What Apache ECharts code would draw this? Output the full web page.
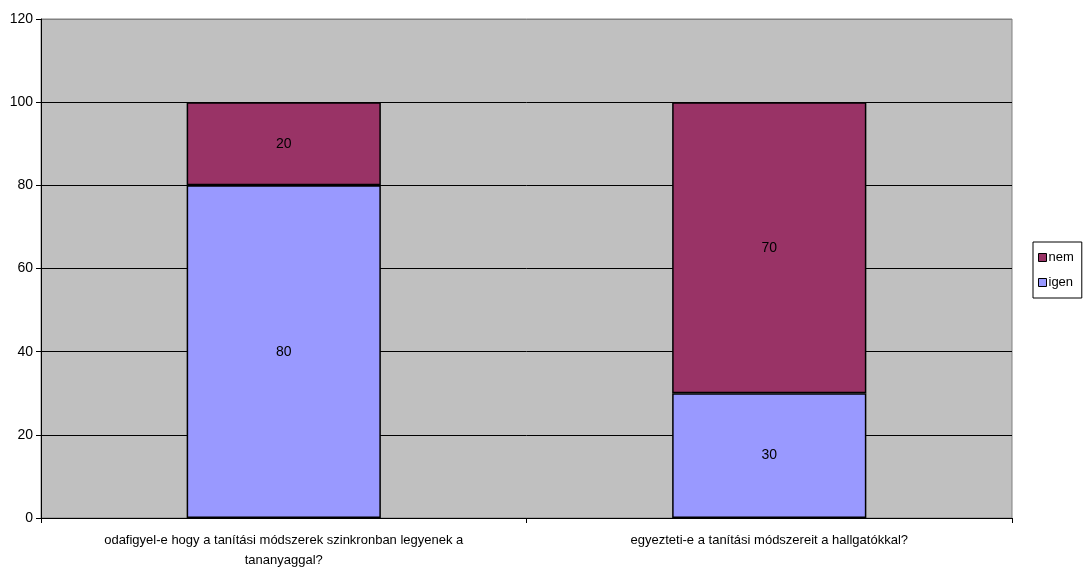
<!DOCTYPE html>
<html>
<head>
<meta charset="utf-8">
<script src="https://cdn.jsdelivr.net/npm/echarts@6/dist/echarts.min.js"></script>
<style>
  html, body { margin: 0; padding: 0; background: #fff; }
  #chart { width: 1088px; height: 567px; }
</style>
</head>
<body>
<div id="chart"></div>
<script>
const categories = [
  'odafigyel-e hogy a tanítási módszerek szinkronban legyenek a\ntananyaggal?',
  'egyezteti-e a tanítási módszereit a hallgatókkal?'
];
const igenValues = [80, 30];
const nemValues = [20, 70];
const yTicks = [0, 20, 40, 60, 80, 100, 120];

const chart = echarts.init(document.getElementById('chart'));
const font = 'Liberation Sans, Arial, sans-serif';

const barLabel = {
  show: true,
  position: 'inside',
  color: '#000',
  fontSize: 14,
  fontFamily: font
};

chart.setOption({
  animation: false,
  grid: {
    left: 41, right: 76, top: 19, bottom: 49,
    outerBoundsMode: 'none',
    containLabel: false,
    show: true,
    backgroundColor: '#C0C0C0',
    borderColor: '#808080',
    borderWidth: 1
  },
  legend: {
    data: ['nem', 'igen'],
    orient: 'vertical',
    left: 1033,
    top: 242,
    itemWidth: 8,
    itemHeight: 8,
    itemGap: 12,
    icon: 'rect',
    borderColor: '#000',
    borderWidth: 1,
    padding: [9, 8, 9, 5],
    textStyle: { fontSize: 13, fontFamily: font, color: '#000', padding: [0, 0, 0, -3] },
    itemStyle: { borderColor: '#000', borderWidth: 1 }
  },
  xAxis: {
    type: 'category',
    data: categories,
    axisLine: { lineStyle: { color: '#000', width: 1 } },
    axisTick: { show: true, alignWithLabel: false, length: 5, lineStyle: { color: '#000' } },
    axisLabel: {
      color: '#000', fontSize: 13, fontFamily: font, margin: 12, lineHeight: 20, interval: 0
    }
  },
  yAxis: {
    type: 'value',
    min: yTicks[0],
    max: yTicks[yTicks.length - 1],
    interval: 20,
    axisLine: { show: true, lineStyle: { color: '#000', width: 1 } },
    axisTick: { show: true, length: 5, lineStyle: { color: '#000' } },
    axisLabel: { color: '#000', fontSize: 14, fontFamily: font, margin: 8 },
    splitLine: {
      show: true,
      lineStyle: { color: ['#000', '#000', '#000', '#000', '#000', '#000', '#808080'], width: 1 }
    }
  },
  series: [
    {
      name: 'igen',
      type: 'bar',
      stack: 'total',
      data: igenValues,
      barWidth: '40%',
      itemStyle: { color: '#9999FF', borderColor: '#000', borderWidth: 1.5 },
      label: barLabel
    },
    {
      name: 'nem',
      type: 'bar',
      stack: 'total',
      data: nemValues,
      barWidth: '40%',
      itemStyle: { color: '#993366', borderColor: '#000', borderWidth: 1.5 },
      label: barLabel
    }
  ]
});
</script>
</body>
</html>
